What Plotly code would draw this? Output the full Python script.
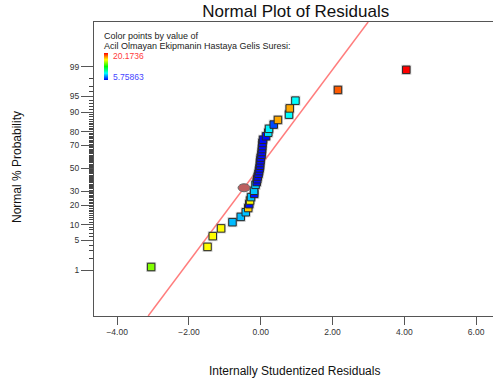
import plotly.graph_objects as go
from statistics import NormalDist

# ---------------- data (rank order, lowest residual first) ----------------
residuals = [-3.053, -1.483, -1.336, -1.105, -0.788, -0.557, -0.417, -0.348,
             -0.320, -0.298, -0.270, -0.181, -0.186, -0.465, -0.145,
             -0.111, -0.097, -0.083, -0.061, -0.047, -0.033, -0.019, -0.019,
             -0.008, 0.000, 0.022, 0.028, 0.036, 0.042, 0.047, 0.064, 0.148,
             0.209, 0.231, 0.362, 0.479, 0.788, 0.807, 0.966, 2.151, 4.055]
color_values = [14.8, 16.6, 16.6, 16.6, 8.4, 8.4, 8.5, 17.3,
                6.0, 16.6, 8.5, 6.0, 8.6, 11.0, 8.6,
                5.9, 5.9, 5.9, 5.9, 5.9, 5.9, 5.9, 5.9,
                5.9, 5.9, 5.9, 5.9, 5.9, 5.9, 5.9, 5.9, 5.9,
                9.0, 9.2, 6.8, 17.8, 9.36, 17.8, 9.36, 18.9, 20.17]
highlight_index = 13          # point drawn as an oval
color_min, color_max = 5.75863, 20.1736
color_var_name = "Acil Olmayan Ekipmanin Hastaya Gelis Suresi:"

prob_ticks = [1, 5, 10, 20, 30, 50, 70, 80, 90, 95, 99]
x_ticks = [-4, -2, 0, 2, 4, 6]

# reference normal line (mean, sd of the fitted line)
line_mu, line_sigma = -0.06, 0.913

# ---------------- derived ----------------
nd = NormalDist()
n = len(residuals)
z = [nd.inv_cdf((i + 0.5) / n) for i in range(n)]

sq_idx = [i for i in range(n) if i != highlight_index]
sx = [residuals[i] for i in sq_idx]
sz = [z[i] for i in sq_idx]
sc = [color_values[i] for i in sq_idx]

y_range = [-3.37, 3.343]
x_range = [-4.645, 6.47]

colorscale = [[0.0, "rgb(0,0,255)"], [0.25, "rgb(0,255,255)"],
              [0.5, "rgb(0,255,0)"], [0.75, "rgb(255,255,0)"],
              [1.0, "rgb(255,0,0)"]]

FONT = "Arial, Liberation Sans, sans-serif"

fig = go.Figure()

# fitted line
lz = [y_range[0], y_range[1]]
lx = [line_mu + line_sigma * v for v in lz]
fig.add_trace(go.Scatter(x=lx, y=lz, mode="lines",
                         line=dict(color="rgb(255,125,125)", width=1.5),
                         hoverinfo="skip", showlegend=False))

# shadow halo
fig.add_trace(go.Scatter(x=sx, y=sz, mode="markers",
                         marker=dict(symbol="square", size=10,
                                     color="rgba(120,120,120,0.35)",
                                     line=dict(width=0)),
                         hoverinfo="skip", showlegend=False))

# points
fig.add_trace(go.Scatter(
    x=sx, y=sz, mode="markers", showlegend=False,
    marker=dict(symbol="square", size=7.5, color=sc, colorscale=colorscale,
                cmin=color_min, cmax=color_max,
                line=dict(color="#2a2a2a", width=1),
                showscale=True,
                colorbar=dict(x=(104 - 94) / 399, xanchor="left", xpad=0,
                              y=(316 - 53) / 294, yanchor="top", ypad=0,
                              thickness=4, len=27, lenmode="pixels",
                              outlinewidth=0, showticklabels=False, ticks="")),
))

# oval point
ox, oz = residuals[highlight_index], z[highlight_index]
px_per_x = 399 / (x_range[1] - x_range[0])
px_per_z = 294 / (y_range[1] - y_range[0])
fig.add_shape(type="circle", xref="x", yref="y",
              x0=ox - 6 / px_per_x, x1=ox + 6 / px_per_x,
              y0=oz - 4 / px_per_z, y1=oz + 4 / px_per_z,
              fillcolor="rgb(190,95,95)",
              line=dict(color="#666666", width=1))

tickvals_y = [nd.inv_cdf(p / 100) for p in prob_ticks]
minor_vals = [nd.inv_cdf(p / 100) for p in range(1, 100) if p not in prob_ticks]

fig.update_layout(
    width=493, height=385,
    margin=dict(l=94, r=0, t=22, b=69),
    paper_bgcolor="white", plot_bgcolor="white",
    font=dict(family=FONT, color="#333333"),
    title=dict(text="Normal Plot of Residuals", xref="container", yref="container",
               x=295.7 / 493, y=1 - 11.5 / 385, xanchor="center", yanchor="middle",
               font=dict(size=17, color="#111111", family=FONT)),
    xaxis=dict(range=x_range, tickvals=x_ticks, tickformat=".2f",
               showgrid=False, zeroline=False, showline=True, mirror=True,
               linecolor="#555555", linewidth=1, ticks="outside", ticklen=8,
               tickcolor="#555555", tickfont=dict(size=8.5, color="#333333")),
    yaxis=dict(range=y_range, tickvals=tickvals_y,
               ticktext=[str(p) for p in prob_ticks],
               showgrid=False, zeroline=False, showline=True,
               linecolor="#555555", linewidth=1, ticks="outside", ticklen=12,
               tickcolor="#555555", tickfont=dict(size=8.5, color="#333333"),
               minor=dict(tickmode="array", tickvals=minor_vals, ticks="outside",
                          ticklen=4, tickcolor="#444444", tickwidth=1)),
)

ann = [
    dict(text="Internally Studentized Residuals", x=(294 - 94) / 399,
         y=(316 - 371) / 294, font=dict(size=12, color="#111111")),
    dict(text="Normal % Probability", x=(17 - 94) / 399, y=(316 - 167) / 294,
         textangle=-90, font=dict(size=12, color="#111111")),
    dict(text="Color points by value of", x=(102 - 94) / 399,
         y=(316 - 35.7) / 294, xanchor="left", font=dict(size=9, color="#222222")),
    dict(text=color_var_name, x=(102 - 94) / 399,
         y=(316 - 45.7) / 294, xanchor="left", font=dict(size=9, color="#222222")),
    dict(text=f"{color_max:g}", x=(111 - 94) / 399, y=(316 - 55.7) / 294,
         xanchor="left", font=dict(size=8.5, color="rgb(255,60,60)")),
    dict(text=f"{color_min:g}", x=(111 - 94) / 399, y=(316 - 76.7) / 294,
         xanchor="left", font=dict(size=8.5, color="rgb(70,70,255)")),
]
for a in ann:
    a.setdefault("xanchor", "center")
    fig.add_annotation(xref="paper", yref="paper", showarrow=False,
                       yanchor="middle", **a)

fig.write_html("out.html")
